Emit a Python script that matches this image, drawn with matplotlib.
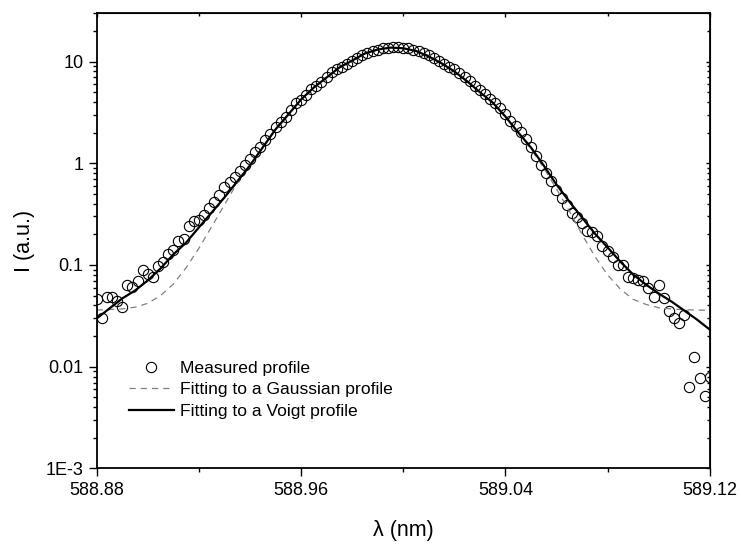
import numpy as np
import matplotlib.pyplot as plt
from matplotlib.ticker import FixedLocator, FixedFormatter, LogLocator, MultipleLocator, NullFormatter

plt.rcParams['font.family'] = ['Liberation Sans', 'DejaVu Sans']

# Measured line profile, one point every 0.002 nm starting at 588.88 nm
lam_start = 588.88
lam_step = 0.002
measured = [
    0.046, 0.030, 0.049, 0.048, 0.044, 0.039, 0.064, 0.061, 0.069, 0.090,
    0.082, 0.077, 0.097, 0.108, 0.127, 0.142, 0.174, 0.182, 0.239, 0.268,
    0.280, 0.313, 0.367, 0.420, 0.49, 0.58, 0.65, 0.74, 0.83, 0.97,
    1.11, 1.30, 1.46, 1.71, 1.92, 2.25, 2.57, 2.88, 3.37, 3.95,
    4.23, 4.74, 5.31, 5.81, 6.36, 7.12, 7.80, 8.35, 8.9, 9.5,
    10.2, 10.9, 11.6, 12.2, 12.7, 13.1, 13.5, 13.7, 13.8, 13.8,
    13.7, 13.5, 13.1, 12.7, 12.2, 11.6, 10.9, 10.2, 9.5, 8.9,
    8.35, 7.75, 7.1, 6.4, 5.8, 5.3, 4.75, 4.3, 3.95, 3.53,
    3.08, 2.63, 2.30, 2.01, 1.75, 1.43, 1.19, 0.951, 0.811, 0.662,
    0.540, 0.451, 0.385, 0.328, 0.293, 0.256, 0.218, 0.213, 0.191, 0.152,
    0.136, 0.121, 0.099, 0.099, 0.077, 0.075, 0.072, 0.069, 0.060, 0.049,
    0.063, 0.047, 0.035, 0.030, 0.027, 0.032, 0.0063, 0.0126, 0.0078, 0.0051,
    0.0080,
]

# Fitted profiles, tabulated every 0.005 nm
fit_step = 0.005
gauss_fit = [
    0.036, 0.0365, 0.037, 0.0385, 0.042, 0.050, 0.065, 0.094, 0.146, 0.238,
    0.39, 0.64, 0.97, 1.45, 2.17, 3.05, 4.27, 5.6, 7.0, 8.8,
    10.3, 12.1, 13.2, 13.7, 13.5, 12.8, 11.5, 9.6, 8.0, 6.4,
    5.0, 4.0, 2.88, 2.0, 1.38, 0.90, 0.56, 0.34, 0.20, 0.122,
    0.080, 0.058, 0.046, 0.041, 0.038, 0.037, 0.0363, 0.036, 0.036,
]
voigt_fit = [
    0.0298, 0.0374, 0.0469, 0.0561, 0.0705, 0.0925, 0.127, 0.166, 0.234, 0.328,
    0.461, 0.662, 0.951, 1.43, 2.15, 3.01, 4.23, 5.55, 6.96, 8.73,
    10.2, 12.0, 13.1, 13.7, 13.5, 12.7, 11.2, 9.6, 8.0, 6.4,
    5.0, 3.95, 2.88, 2.01, 1.43, 0.951, 0.618, 0.421, 0.293, 0.204,
    0.149, 0.108, 0.0807, 0.0643, 0.0525, 0.0438, 0.0357, 0.0291, 0.0232,
]

y_ticks = [1e-3, 1e-2, 1e-1, 1, 10]
y_tick_labels = ['1E-3', '0.01', '0.1', '1', '10']
x_ticks = [588.88, 588.96, 589.04, 589.12]

lam = lam_start + lam_step * np.arange(len(measured))
lam_fit = lam_start + fit_step * np.arange(len(voigt_fit))

fig = plt.figure(figsize=(7.41, 5.45), dpi=100)
ax = fig.add_axes([0.1305, 0.1404, 0.8273, 0.8358])

ax.plot(lam, measured, 'o', ms=7.4, mfc='none', mec='black', mew=0.8,
        label='Measured profile')
ax.plot(lam_fit, gauss_fit, '--', color='#808080', lw=0.9, dashes=(5, 4),
        label='Fitting to a Gaussian profile')
ax.plot(lam_fit, voigt_fit, '-', color='black', lw=1.6,
        label='Fitting to a Voigt profile')

ax.set_yscale('log')
ax.set_xlim(588.88, 589.12)
ax.set_ylim(1e-3, 30)

ax.xaxis.set_major_locator(FixedLocator(x_ticks))
ax.xaxis.set_major_formatter(FixedFormatter(['%.2f' % t for t in x_ticks]))
ax.xaxis.set_minor_locator(MultipleLocator(0.04))
ax.yaxis.set_major_locator(FixedLocator(y_ticks))
ax.yaxis.set_major_formatter(FixedFormatter(y_tick_labels))
ax.yaxis.set_minor_locator(LogLocator(base=10, subs=np.arange(2, 10)))
ax.yaxis.set_minor_formatter(NullFormatter())

# left/bottom ticks point out, the mirrored ones on top/right point in
ax.tick_params(which='both', direction='out', width=1.0, labelsize=13, pad=4)
ax.tick_params(which='major', length=5.5)
ax.tick_params(which='minor', length=3)

sec_x = ax.secondary_xaxis('top')
sec_x.set_xticks(x_ticks)
sec_x.xaxis.set_minor_locator(MultipleLocator(0.04))
sec_x.tick_params(which='both', direction='in', labeltop=False, width=1.0)
sec_x.tick_params(which='major', length=3)
sec_x.tick_params(which='minor', length=2)

sec_y = ax.secondary_yaxis('right')
sec_y.set_yticks(y_ticks)
sec_y.yaxis.set_minor_locator(LogLocator(base=10, subs=np.arange(2, 10)))
sec_y.yaxis.set_minor_formatter(NullFormatter())
sec_y.tick_params(which='both', direction='in', labelright=False, width=1.0)
sec_y.tick_params(which='major', length=3)
sec_y.tick_params(which='minor', length=2)

for s in ax.spines.values():
    s.set_linewidth(1.3)

ax.set_xlabel('λ (nm)', fontsize=15.5)
ax.set_ylabel('I (a.u.)', fontsize=15.5)
ax.xaxis.set_label_coords(0.5, -0.113)
ax.yaxis.set_label_coords(-0.1, 0.5)

ax.legend(loc='upper left', bbox_to_anchor=(0.052, 0.236), frameon=False,
          fontsize=12.6, borderpad=0, borderaxespad=0, handlelength=2.6,
          handletextpad=0.35, labelspacing=0.34)

fig.savefig('out.png', dpi=100)
